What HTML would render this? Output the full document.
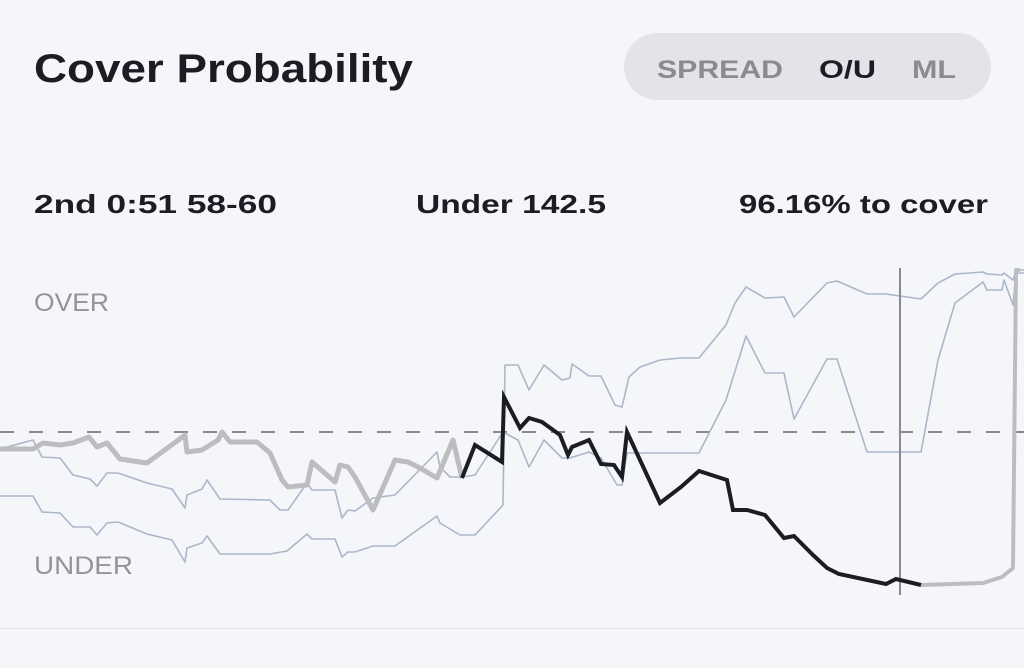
<!DOCTYPE html>
<html><head><style>
html,body{margin:0;padding:0;background:#f5f6fa;}
svg{display:block;font-family:"Liberation Sans",sans-serif;}
</style></head><body>
<svg width="1024" height="668" viewBox="0 0 1024 668" xmlns="http://www.w3.org/2000/svg">
<rect width="1024" height="668" fill="#f5f6fa"/>
<text x="34" y="82" font-size="40" font-weight="bold" fill="#1c1d24" textLength="379" lengthAdjust="spacingAndGlyphs">Cover Probability</text>
<rect x="624" y="33" width="367" height="67" rx="33.5" fill="#e3e4e9"/>
<text x="657" y="78" font-size="25" font-weight="bold" fill="#8a8b90" textLength="126" lengthAdjust="spacingAndGlyphs">SPREAD</text>
<text x="819" y="78" font-size="25" font-weight="bold" fill="#1c1d24" textLength="57" lengthAdjust="spacingAndGlyphs">O/U</text>
<text x="912" y="78" font-size="25" font-weight="bold" fill="#8a8b90" textLength="44" lengthAdjust="spacingAndGlyphs">ML</text>
<text x="34" y="213" font-size="26" font-weight="bold" fill="#1c1d24" textLength="243" lengthAdjust="spacingAndGlyphs">2nd 0:51 58-60</text>
<text x="416" y="213" font-size="26" font-weight="bold" fill="#1c1d24" textLength="190" lengthAdjust="spacingAndGlyphs">Under 142.5</text>
<text x="739" y="213" font-size="26" font-weight="bold" fill="#1c1d24" textLength="249" lengthAdjust="spacingAndGlyphs">96.16% to cover</text>
<text x="34" y="311" font-size="25" fill="#949498" textLength="75" lengthAdjust="spacingAndGlyphs">OVER</text>
<text x="34" y="574" font-size="25" fill="#949498" textLength="99" lengthAdjust="spacingAndGlyphs">UNDER</text>
<line x1="0" y1="432" x2="1024" y2="432" stroke="#8a8a8e" stroke-width="2" stroke-dasharray="14,15"/>
<g fill="none" stroke="#abb7c9" stroke-width="1.6" stroke-linejoin="round">
<polyline points="0,449 33,440 42,457 60,458 73,475 90,479 97,486 107,473 118,473 147,483 172,489 185,508 187,495 202,489 207,480 220,499 270,500 280,510 288,510 307,483 312,490 335,490 342,518 348,510 355,511 373,498 395,495 437,452 440,467 450,477 463,477 475,475 503,432 518,440 529,467 544,440 562,458 570,458 589,452 601,458 617,485 622,485 627,453 699,453 726,400 746,336 765,373 784,373 794,419 827,359 837,359 867,452 921,452 938,360 955,303 983,282 987,290 1002,290 1004,280 1013,305 1016,273 1024,273"/>
<polyline points="0,496 33,496 42,512 60,513 73,527 90,527 97,535 107,523 118,522 147,534 172,540 185,562 187,548 202,543 207,536 220,554 270,554 287,551 307,534 312,539 335,539 342,557 348,552 355,552 373,546 395,546 437,516 440,523 460,535 475,535 503,505 505,365 518,365 529,390 544,365 562,380 570,378 572,364 589,376 601,376 615,405 622,407 629,377 640,367 660,360 681,358 699,358 726,325 735,303 746,287 765,298 784,297 794,317 827,283 837,281 867,294 886,294 921,299 938,283 955,274 983,272 987,274 1002,275 1004,273 1013,280 1016,270 1024,270"/>
</g>
<polyline fill="none" stroke="#bdbdc0" stroke-width="5" stroke-linejoin="round" points="0,449 33,449 43,443 60,445 73,443 89,437 97,447 107,443 120,459 147,463 173,444 185,435 187,452 202,450 218,440 222,432 230,442 257,442 270,453 282,480 288,487 307,485 312,462 335,482 340,465 348,467 355,477 373,510 395,460 408,462 420,468 437,478 453,440 462,478"/>
<polyline fill="none" stroke="#bdbdc0" stroke-width="4" stroke-linejoin="round" points="921,585 983,583 1002,577 1013,568 1016,270 1020,270"/>
<line x1="900" y1="268" x2="900" y2="595" stroke="#8a8a8e" stroke-width="2"/>
<polyline fill="none" stroke="#1c1d24" stroke-width="4" stroke-linejoin="miter" points="462,478 475,445 502,462 504,397 520,428 529,418 542,422 560,435 568,455 572,447 589,440 601,464 614,465 622,477 627,432 640,460 660,503 681,487 699,471 727,480 733,510 747,510 765,515 784,538 794,536 813,555 827,568 839,574 886,584 896,579 921,585"/>
<line x1="0" y1="628.5" x2="1024" y2="628.5" stroke="#e2e3e8" stroke-width="1"/>
</svg>
</body></html>
